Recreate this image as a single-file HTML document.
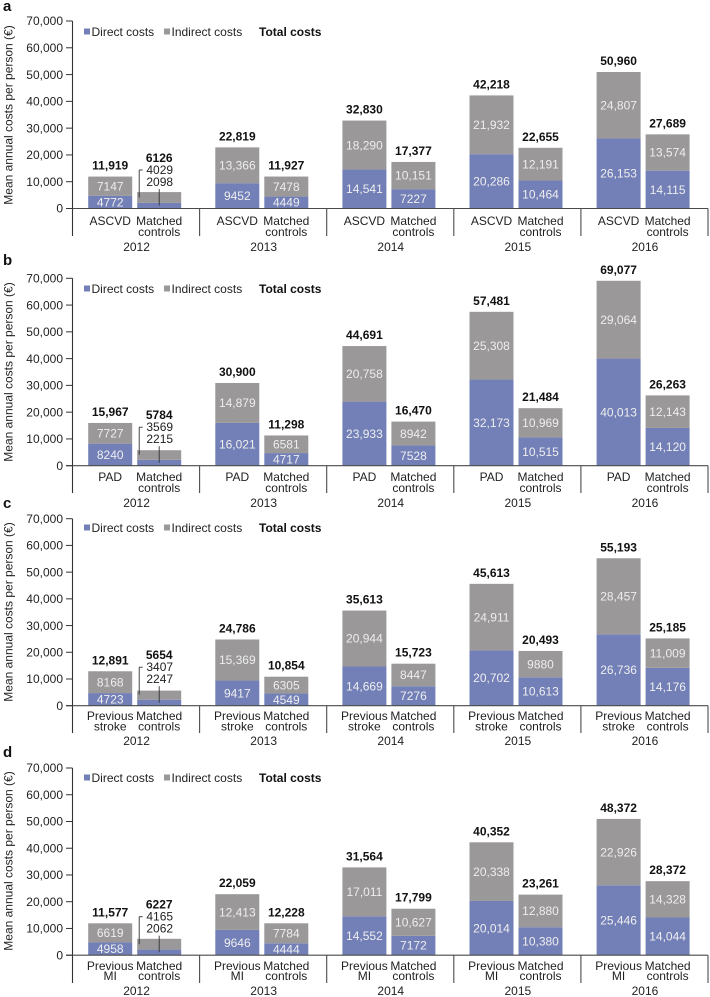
<!DOCTYPE html>
<html lang="en">
<head>
<meta charset="utf-8">
<title>Mean annual costs per person</title>
<style>
html,body{margin:0;padding:0;background:#fff;}
svg{display:block;font-family:"Liberation Sans",Arial,sans-serif;}
</style>
</head>
<body>
<svg id="chart" xmlns="http://www.w3.org/2000/svg" width="710" height="997" viewBox="0 0 710 997"></svg>
<script>
// Shared categories and ticks
const years = ['2012', '2013', '2014', '2015', '2016'];
const yTicks = [0, 10000, 20000, 30000, 40000, 50000, 60000, 70000];
const yTickLabels = ['0', '10,000', '20,000', '30,000', '40,000', '50,000', '60,000', '70,000'];
const legendLabels = ['Direct costs', 'Indirect costs', 'Total costs'];
const yTitle = 'Mean annual costs per person (€)';
const controlsLabel = ['Matched', 'controls'];

// Panel a: ASCVD, then matched controls (printed values)
const aLabel = ['ASCVD'];
const aCaseDirect = [4772, 9452, 14541, 20286, 26153];
const aCaseIndirect = [7147, 13366, 18290, 21932, 24807];
const aCaseTotal = [11919, 22819, 32830, 42218, 50960];
const aCtrlDirect = [2098, 4449, 7227, 10464, 14115];
const aCtrlIndirect = [4029, 7478, 10151, 12191, 13574];
const aCtrlTotal = [6126, 11927, 17377, 22655, 27689];

// Panel b: PAD
const bLabel = ['PAD'];
const bCaseDirect = [8240, 16021, 23933, 32173, 40013];
const bCaseIndirect = [7727, 14879, 20758, 25308, 29064];
const bCaseTotal = [15967, 30900, 44691, 57481, 69077];
const bCtrlDirect = [2215, 4717, 7528, 10515, 14120];
const bCtrlIndirect = [3569, 6581, 8942, 10969, 12143];
const bCtrlTotal = [5784, 11298, 16470, 21484, 26263];

// Panel c: Previous stroke
const cLabel = ['Previous', 'stroke'];
const cCaseDirect = [4723, 9417, 14669, 20702, 26736];
const cCaseIndirect = [8168, 15369, 20944, 24911, 28457];
const cCaseTotal = [12891, 24786, 35613, 45613, 55193];
const cCtrlDirect = [2247, 4549, 7276, 10613, 14176];
const cCtrlIndirect = [3407, 6305, 8447, 9880, 11009];
const cCtrlTotal = [5654, 10854, 15723, 20493, 25185];

// Panel d: Previous MI (printed values)
const dLabel = ['Previous', 'MI'];
const dCaseDirect = [4958, 9646, 14552, 20014, 25446];
const dCaseIndirect = [6619, 12413, 17011, 20338, 22926];
const dCaseTotal = [11577, 22059, 31564, 40352, 48372];
const dCtrlDirect = [2062, 4444, 7172, 10380, 14044];
const dCtrlIndirect = [4165, 7784, 10627, 12880, 14328];
const dCtrlTotal = [6227, 12228, 17799, 23261, 28372];

// Panel d: bar heights as drawn in the figure (they differ from the printed values)
const dCaseDirectDrawn = [4772, 9452, 14541, 20286, 26153];
const dCaseIndirectDrawn = [7147, 13366, 18290, 21932, 24807];
const dCtrlDirectDrawn = [2098, 4449, 7227, 10464, 14115];
const dCtrlIndirectDrawn = [4029, 7478, 10151, 12191, 13574];

const panels = [
  {id: 'a', base: 208.5, top: 21, end: 236, letterY: 11, catY: 225, catY2: 236, yearY: 251, legendY: 36, titleY: 115, label: aLabel,
   cd: aCaseDirect, ci: aCaseIndirect, ct: aCaseTotal, md: aCtrlDirect, mi: aCtrlIndirect, mt: aCtrlTotal,
   cdH: aCaseDirect, ciH: aCaseIndirect, mdH: aCtrlDirect, miH: aCtrlIndirect},
  {id: 'b', base: 465.7, top: 278.3, end: 493, letterY: 265, catY: 481, catY2: 492, yearY: 507, legendY: 293, titleY: 372, label: bLabel,
   cd: bCaseDirect, ci: bCaseIndirect, ct: bCaseTotal, md: bCtrlDirect, mi: bCtrlIndirect, mt: bCtrlTotal,
   cdH: bCaseDirect, ciH: bCaseIndirect, mdH: bCtrlDirect, miH: bCtrlIndirect},
  {id: 'c', base: 705.7, top: 518.7, end: 733, letterY: 508, catY: 720, catY2: 730.5, yearY: 745, legendY: 532, titleY: 612, label: cLabel,
   cd: cCaseDirect, ci: cCaseIndirect, ct: cCaseTotal, md: cCtrlDirect, mi: cCtrlIndirect, mt: cCtrlTotal,
   cdH: cCaseDirect, ciH: cCaseIndirect, mdH: cCtrlDirect, miH: cCtrlIndirect},
  {id: 'd', base: 955.2, top: 768, end: 983, letterY: 757, catY: 970, catY2: 980, yearY: 995, legendY: 782, titleY: 861, label: dLabel,
   cd: dCaseDirect, ci: dCaseIndirect, ct: dCaseTotal, md: dCtrlDirect, mi: dCtrlIndirect, mt: dCtrlTotal,
   cdH: dCaseDirectDrawn, ciH: dCaseIndirectDrawn, mdH: dCtrlDirectDrawn, miH: dCtrlIndirectDrawn}
];

const NS = 'http://www.w3.org/2000/svg';
const root = document.getElementById('chart');
const BLUE = '#7380b8', GREY = '#9a9898', AXIS = '#4a4a4a', INK = '#1f1f1f';
const axisLeft = 72.5, groupW = 127.1, barW = 44;
const yMax = 70000;

function fmt(v) {
  return v >= 10000 ? String(v).replace(/(\d)(\d{3})$/, '$1,$2') : String(v);
}
function xGroup(i) { return axisLeft + i * groupW; }
function make(tag, attrs, parent, text) {
  const el = document.createElementNS(NS, tag);
  for (const k in attrs) el.setAttribute(k, attrs[k]);
  if (text !== undefined) el.textContent = text;
  parent.appendChild(el);
  return el;
}
function line(parent, x1, y1, x2, y2, w, color) {
  return make('line', {x1: x1, y1: y1, x2: x2, y2: y2, stroke: color || AXIS, 'stroke-width': w || 1}, parent);
}
function label(parent, x, y, str, size, color, weight, anchor) {
  return make('text', {x: x, y: y, 'font-size': size, fill: color, 'font-weight': weight || 'normal', 'text-anchor': anchor || 'middle'}, parent, str);
}

panels.forEach(function (p) {
  const yScale = function (v) { return p.base - (p.base - p.top) * v / yMax; };
  const g = make('g', {}, root);
  
  

  const letter = label(g, 3, p.letterY, p.id, 15, '#111', 'bold', 'start');
  
  

  const title = label(g, 0, 0, yTitle, 12, INK);
  title.setAttribute('transform', 'translate(12.5,' + p.titleY + ') rotate(-90)');
  
  

  // Legend
  const lg = make('g', {}, g);
  
  
  const swatchD = make('rect', {x: 84, y: p.legendY - 7.5, width: 6, height: 6, fill: BLUE}, lg);
  
  
  const textD = label(lg, 91.5, p.legendY, legendLabels[0], 12, '#222', 'normal', 'start');
  
  
  const swatchI = make('rect', {x: 164, y: p.legendY - 7.5, width: 6, height: 6, fill: GREY}, lg);
  
  
  const textI = label(lg, 171.5, p.legendY, legendLabels[1], 12, '#222', 'normal', 'start');
  
  
  const textT = label(lg, 259, p.legendY, legendLabels[2], 12, '#111', 'bold', 'start');
  
  

  // Bars
  years.forEach(function (yr, i) {
    const gx = xGroup(i);
    const sets = [
      {x: gx + 15.7, d: p.cd[i], m: p.ci[i], t: p.ct[i], dH: p.cdH[i], mH: p.ciH[i], name: 'case'},
      {x: gx + 64.7, d: p.md[i], m: p.mi[i], t: p.mt[i], dH: p.mdH[i], mH: p.miH[i], name: 'control'}
    ];
    sets.forEach(function (s) {
      const cx = s.x + barW / 2;
      const yD = yScale(s.dH), yT = yScale(s.dH + s.mH);
      const r1 = make('rect', {x: s.x, y: yD, width: barW, height: p.base - yD, fill: BLUE}, g);
      
      
      const r2 = make('rect', {x: s.x, y: yT, width: barW, height: yD - yT, fill: GREY}, g);
      
      

      let totalText, indirectText, directText;
      if (i === 0 && s.name === 'control') {
        // Small bar: values sit above with leader lines
        totalText = label(g, cx, p.base - 46.5, fmt(s.t), 12, '#111', 'bold');
        indirectText = label(g, cx + 0.5, p.base - 34.5, fmt(s.m), 12, INK);
        directText = label(g, cx + 0.5, p.base - 22.5, fmt(s.d), 12, INK);
        const lead1 = line(g, s.x + 2, p.base - 11, s.x + 2, p.base - 38.5, 0.9, '#333');
        
        
        const lead2 = line(g, s.x + 2, p.base - 38.5, s.x + 5.5, p.base - 38.5, 0.9, '#333');
        
        
        const lead3 = line(g, cx, p.base - 19.5, cx, p.base - 3, 0.9, '#333');
        
        
      } else {
        indirectText = label(g, cx, (yD + yT) / 2 + 4.2, fmt(s.m), 12, '#eeeeee');
        directText = label(g, cx, (p.base + yD) / 2 + 4.2, fmt(s.d), 12, '#eeeeee');
        totalText = label(g, cx, yT - 7, fmt(s.t), 12, '#111', 'bold');
      }
      
      
      
      
      
      
    });

    // Category labels
    const cx1 = gx + 15.7 + barW / 2, cx2 = gx + 64.7 + barW / 2;
    const cat1 = label(g, cx1, p.catY, p.label[0], 12, INK);
    
    
    if (p.label.length > 1) {
      const cat1b = label(g, cx1, p.catY2, p.label[1], 12, INK);
      
      
    }
    const cat2 = label(g, cx2, p.catY, controlsLabel[0], 12, INK);
    
    
    const cat2b = label(g, cx2, p.catY2, controlsLabel[1], 12, INK);
    
    
    const yl = label(g, gx + groupW / 2 + 0.5, p.yearY, yr, 12, INK);
    
    
  });

  // Axes
  const ax = make('g', {}, g);
  
  
  const yLine = line(ax, axisLeft, p.top, axisLeft, p.end, 1.1, '#333');
  
  
  const xLine = line(ax, 66, p.base, xGroup(years.length), p.base, 1.1);
  
  
  years.forEach(function (yr, i) {
    const sep = line(ax, xGroup(i + 1), p.base, xGroup(i + 1), p.end, 1.1);
    
    
  });
  yTicks.forEach(function (t, i) {
    const tick = line(ax, 66, yScale(t), axisLeft, yScale(t), 1, '#333');
    
    
    const tickText = label(ax, 63, yScale(t) + 4.2, yTickLabels[i], 12, INK, 'normal', 'end');
    
    
  });
});
</script>
</body>
</html>
